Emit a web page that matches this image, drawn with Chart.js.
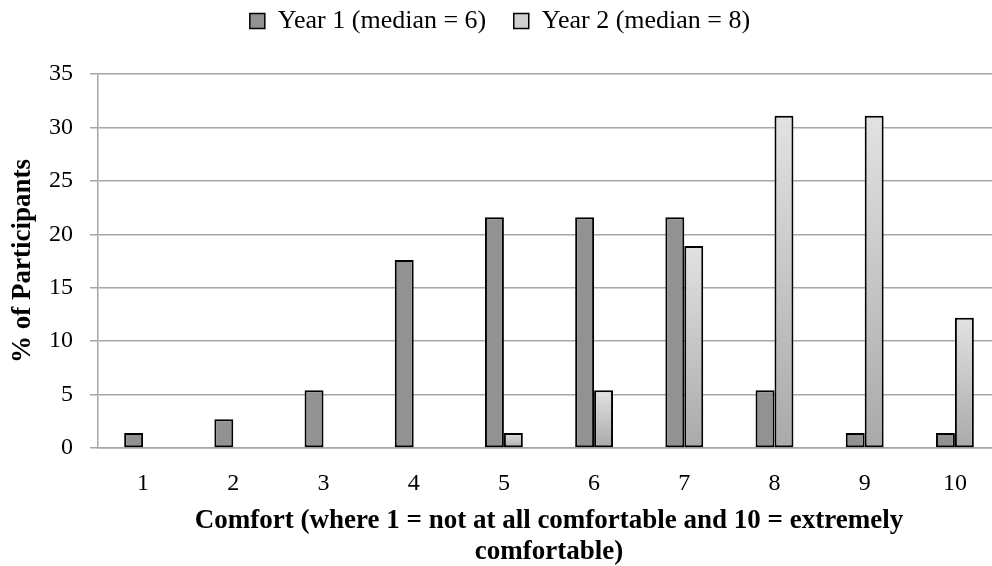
<!DOCTYPE html>
<html>
<head>
<meta charset="utf-8">
<script src="https://cdn.jsdelivr.net/npm/chart.js@4.4.0/dist/chart.umd.min.js"></script>
<style>
  html, body { margin: 0; padding: 0; background: #fff; overflow: hidden; }
  #wrap { width: 1000px; height: 566px; }
</style>
</head>
<body>
<div id="wrap"><canvas id="chart"></canvas></div>
<script>
// datos
const categories = ["1", "2", "3", "4", "5", "6", "7", "8", "9", "10"];
const year1 = [1.4, 2.7, 5.4, 17.6, 21.6, 21.6, 21.6, 5.4, 1.4, 1.4];
const year2 = [0, 0, 0, 0, 1.4, 5.4, 18.9, 31.1, 31.1, 12.2];
const seriesNames = ["Year 1 (median = 6)", "Year 2 (median = 8)"];
const yTicks = [0, 5, 10, 15, 20, 25, 30, 35];

const serif = "'Liberation Serif', 'Times New Roman', serif";
const gridColor = "#a6a6a6";

// degradado de cada barra del año 2 (claro arriba, oscuro abajo)
function year2Fill(context) {
  const chart = context.chart;
  const y = chart.scales && chart.scales.y;
  if (!chart.chartArea || !y || context.raw === undefined) return "#c8c8c8";
  const top = y.getPixelForValue(context.raw);
  const base = y.getPixelForValue(0);
  if (!isFinite(top) || base - top < 1) return "#c8c8c8";
  const g = chart.ctx.createLinearGradient(0, top, 0, base);
  g.addColorStop(0, "#e2e2e2");
  g.addColorStop(1, "#a9a9a9");
  return g;
}

// espacio extra debajo de la leyenda
const legendSpace = {
  id: "legendSpace",
  beforeInit(chart) {
    const fit = chart.legend.fit;
    chart.legend.fit = function () {
      fit.call(this);
      this.height += 30;
    };
  },
};

const ctx = document.getElementById("chart").getContext("2d");

new Chart(ctx, {
  type: "bar",
  plugins: [legendSpace],
  data: {
    labels: categories,
    datasets: [
      {
        label: seriesNames[0],
        data: year1,
        backgroundColor: "#929292",
        borderColor: "#000",
        borderWidth: 2,
        borderSkipped: false,
      },
      {
        label: seriesNames[1],
        data: year2,
        backgroundColor: year2Fill,
        borderColor: "#000",
        borderWidth: 2,
        borderSkipped: false,
      },
    ],
  },
  options: {
    responsive: true,
    maintainAspectRatio: false,
    animation: false,
    categoryPercentage: 0.42,
    barPercentage: 1.0,
    layout: { padding: 0 },
    plugins: {
      tooltip: { enabled: false },
      legend: {
        position: "top",
        labels: {
          color: "#000",
          font: { family: serif, size: 26 },
          boxWidth: 15,
          boxHeight: 15,
          padding: 8,
          generateLabels: (chart) => {
            const items = Chart.defaults.plugins.legend.labels.generateLabels(chart);
            items.forEach((it, i) => {
              it.lineWidth = 1.5;
              it.strokeStyle = "#000";
              it.fillStyle = i === 0 ? "#929292" : "#d0d0d0";
              // separacion extra entre los dos elementos
              if (i === 0) it.text = it.text + "\u00A0\u00A0\u00A0";
            });
            return items;
          },
        },
      },
    },
    scales: {
      x: {
        grid: { display: false, drawTicks: false },
        border: { display: true, color: gridColor, width: 1.5 },
        ticks: {
          color: "#000",
          font: { family: serif, size: 24 },
          padding: 21,
          maxRotation: 0,
        },
        title: {
          display: true,
          text: ["Comfort (where 1 = not at all comfortable and 10 = extremely", "comfortable)"],
          color: "#000",
          font: { family: serif, size: 27, weight: "bold", lineHeight: 1.13 },
          padding: { top: 0, bottom: -1 },
        },
        afterFit: (scale) => { scale.height = 118; },
      },
      y: {
        min: 0,
        max: 35,
        afterBuildTicks: (scale) => {
          scale.ticks = yTicks.map((v) => ({ value: v }));
        },
        grid: {
          color: gridColor,
          lineWidth: 1.5,
          tickLength: 8,
          tickColor: gridColor,
        },
        border: { display: true, color: gridColor, width: 1.5 },
        ticks: {
          color: "#000",
          font: { family: serif, size: 24 },
          padding: 17,
        },
        title: {
          display: true,
          text: "% of Participants",
          color: "#000",
          font: { family: serif, size: 27, weight: "bold" },
          padding: { top: 7, bottom: 0 },
        },
        afterFit: (scale) => { scale.width = 98; },
      },
    },
  },
});
</script>
</body>
</html>
